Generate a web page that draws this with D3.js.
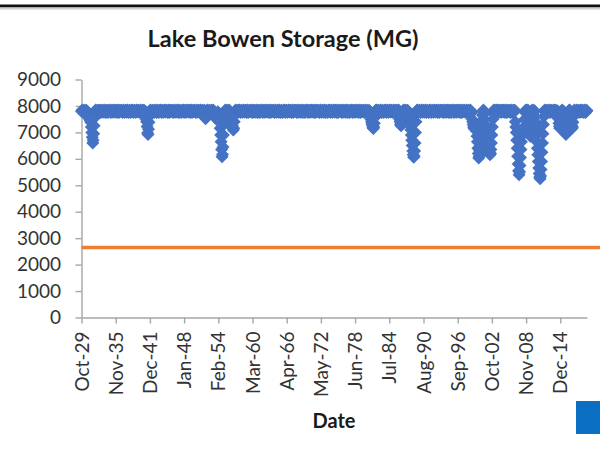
<!DOCTYPE html>
<html>
<head>
<meta charset="utf-8">
<script src="https://cdn.jsdelivr.net/npm/d3@7"></script>
<style>
  html, body { margin: 0; padding: 0; background: #fff; }
  svg { display: block; }
</style>
</head>
<body>
<svg id="chart" width="600" height="455"></svg>
<script>
// Monthly storage readings (MG), one row per water year, October to September,
// starting October 1929.
const firstMonth = "1929-10";
const storage = [
  7800,7840,7820,7770,7750,7810,7850,7800,7760,7780,7840,7820,
  7790,7760,7700,7620,7560,7520,7480,7440,7380,7200,7000,6820,
  6600,6700,6950,7250,7550,7780,7850,7800,7760,7790,7840,7820,
  7790,7840,7830,7770,7750,7810,7850,7800,7760,7780,7840,7820,
  7760,7800,7850,7810,7750,7770,7830,7840,7780,7750,7800,7840,
  7820,7850,7790,7750,7790,7840,7830,7770,7760,7820,7850,7800,
  7770,7830,7840,7780,7750,7800,7850,7810,7750,7790,7840,7810,
  7790,7840,7830,7770,7750,7810,7850,7800,7760,7780,7840,7820,
  7760,7800,7850,7810,7750,7770,7830,7840,7780,7750,7800,7840,
  7820,7850,7790,7750,7790,7840,7830,7770,7760,7820,7850,7800,
  7770,7830,7840,7780,7750,7800,7850,7810,7750,7790,7840,7810,
  7780,7840,7820,7770,7800,7620,7500,7400,7220,6980,6920,7120,
  7380,7620,7800,7850,7800,7750,7780,7840,7820,7760,7790,7840,
  7760,7800,7850,7810,7750,7770,7830,7840,7780,7750,7800,7840,
  7820,7850,7790,7750,7790,7840,7830,7770,7760,7820,7850,7800,
  7770,7830,7840,7780,7750,7800,7850,7810,7750,7790,7840,7810,
  7790,7840,7830,7770,7750,7810,7850,7800,7760,7780,7840,7820,
  7760,7800,7850,7810,7750,7770,7830,7840,7780,7750,7800,7840,
  7820,7850,7790,7750,7790,7840,7830,7770,7760,7820,7850,7800,
  7770,7830,7840,7780,7750,7800,7850,7810,7750,7790,7840,7810,
  7790,7840,7830,7770,7750,7810,7850,7800,7760,7780,7840,7820,
  7760,7800,7850,7810,7750,7770,7830,7840,7780,7750,7800,7840,
  7560,7520,7600,7720,7820,7850,7800,7760,7790,7840,7820,7770,
  7790,7840,7830,7770,7800,7850,7810,7760,7700,7620,7560,7520,
  7560,7620,7700,7780,7720,7600,7480,7380,7160,6900,6650,6350,
  6080,6160,6450,6900,7300,7620,7800,7850,7790,7760,7820,7840,
  7800,7760,7820,7850,7800,7760,7600,7480,7400,7330,7250,7160,
  7090,7160,7400,7650,7820,7850,7790,7750,7800,7840,7830,7770,
  7820,7850,7790,7750,7790,7840,7830,7770,7760,7820,7850,7800,
  7770,7830,7840,7780,7750,7800,7850,7810,7750,7790,7840,7810,
  7790,7840,7830,7770,7750,7810,7850,7800,7760,7780,7840,7820,
  7760,7800,7850,7810,7750,7770,7830,7840,7780,7750,7800,7840,
  7820,7850,7790,7750,7790,7840,7830,7770,7760,7820,7850,7800,
  7770,7830,7840,7780,7750,7800,7850,7810,7750,7790,7840,7810,
  7790,7840,7830,7770,7750,7810,7850,7800,7760,7780,7840,7820,
  7760,7800,7850,7810,7750,7770,7830,7840,7780,7750,7800,7840,
  7820,7850,7790,7750,7790,7840,7830,7770,7760,7820,7850,7800,
  7770,7830,7840,7780,7750,7800,7850,7810,7750,7790,7840,7810,
  7790,7840,7830,7770,7750,7810,7850,7800,7760,7780,7840,7820,
  7760,7800,7850,7810,7750,7770,7830,7840,7780,7750,7800,7840,
  7820,7850,7790,7750,7790,7840,7830,7770,7760,7820,7850,7800,
  7770,7830,7840,7780,7750,7800,7850,7810,7750,7790,7840,7810,
  7790,7840,7830,7770,7750,7810,7850,7800,7760,7780,7840,7820,
  7760,7800,7850,7810,7750,7770,7830,7840,7780,7750,7800,7840,
  7820,7850,7790,7750,7790,7840,7830,7770,7760,7820,7850,7800,
  7770,7830,7840,7780,7750,7800,7850,7810,7750,7790,7840,7810,
  7790,7840,7830,7770,7750,7810,7850,7800,7760,7780,7840,7820,
  7760,7800,7850,7810,7750,7770,7830,7840,7780,7750,7800,7840,
  7820,7850,7790,7750,7790,7840,7830,7770,7760,7820,7850,7800,
  7770,7830,7840,7780,7750,7800,7850,7810,7750,7790,7840,7810,
  7790,7840,7830,7770,7750,7810,7850,7800,7760,7780,7840,7820,
  7760,7800,7840,7790,7760,7600,7500,7400,7320,7250,7180,7150,
  7200,7350,7560,7760,7840,7850,7790,7750,7800,7840,7830,7770,
  7760,7800,7850,7810,7750,7770,7830,7840,7780,7750,7800,7840,
  7820,7850,7790,7750,7790,7840,7830,7770,7760,7820,7850,7800,
  7770,7830,7840,7780,7750,7800,7850,7810,7750,7790,7840,7810,
  7790,7840,7820,7760,7800,7850,7800,7500,7400,7300,7250,7300,
  7420,7580,7760,7840,7850,7800,7760,7790,7840,7820,7770,7800,
  7840,7800,7760,7600,7450,7350,7250,7100,6900,6700,6500,6300,
  6150,6060,6100,6300,6600,7000,7400,7700,7840,7850,7790,7760,
  7790,7840,7830,7770,7750,7810,7850,7800,7760,7780,7840,7820,
  7760,7800,7850,7810,7750,7770,7830,7840,7780,7750,7800,7840,
  7820,7850,7790,7750,7790,7840,7830,7770,7760,7820,7850,7800,
  7770,7830,7840,7780,7750,7800,7850,7810,7750,7790,7840,7810,
  7790,7840,7830,7770,7750,7810,7850,7800,7760,7780,7840,7820,
  7760,7800,7850,7810,7750,7770,7830,7840,7780,7750,7800,7840,
  7820,7850,7790,7750,7790,7840,7830,7770,7760,7820,7850,7800,
  7770,7830,7840,7780,7750,7800,7850,7810,7750,7790,7840,7810,
  7790,7840,7830,7770,7750,7810,7850,7800,7760,7780,7840,7820,
  7760,7800,7850,7810,7780,7740,7500,7400,7300,7200,7150,7250,
  7350,7300,7200,7050,6850,6650,6400,6200,6030,6100,6300,6600,
  6900,7100,7250,7450,7650,7800,7850,7700,7500,7300,7150,7000,
  6950,6850,6750,6650,6550,6450,6350,6250,6150,6200,6350,6600,
  6900,7200,7500,7720,7850,7840,7780,7750,7800,7850,7820,7770,
  7820,7850,7790,7750,7790,7840,7830,7770,7760,7820,7850,7800,
  7770,7830,7840,7780,7750,7800,7850,7810,7750,7790,7840,7810,
  7790,7840,7830,7770,7750,7810,7850,7800,7760,7780,7840,7820,
  7780,7840,7400,7200,7000,6700,6400,6100,5800,5550,5400,5500,
  5750,6050,6350,6650,6900,7050,7150,7000,6950,7200,7500,7750,
  7840,7850,7800,7760,7820,7850,7790,7400,7150,7000,6850,7100,
  7450,7750,7850,7810,7760,7800,7840,7790,7600,7400,7150,6900,
  6650,6400,6150,5900,5650,5450,5300,5250,5350,5600,5900,6250,
  6600,6950,7300,7600,7820,7850,7790,7750,7800,7840,7830,7770,
  7760,7800,7850,7810,7750,7770,7830,7840,7780,7750,7800,7840,
  7820,7850,7790,7750,7790,7840,7830,7770,7760,7800,7520,7350,
  7220,7160,7250,7420,7650,7820,7850,7800,7760,7800,7500,7300,
  7100,6980,6920,6960,7060,7200,7380,7550,7720,7840,7850,7800,
  7780,7420,7260,7150,7200,7380,7600,7800,7850,7810,7760,7790,
  7820,7850,7790,7750,7790,7840,7830,7770,7760,7820,7850,7800,
  7770,7830,7840,7780,7750,7800,7850,7810,7750,7790,7840,7820
];

// Minimum pool level (MG)
const minimumPool = 2650;

const yTickValues = [0, 1000, 2000, 3000, 4000, 5000, 6000, 7000, 8000, 9000];
const xTickMonths = ["1929-10", "1935-11", "1941-12", "1948-01", "1954-02",
  "1960-03", "1966-04", "1972-05", "1978-06", "1984-07", "1990-08",
  "1996-09", "2002-10", "2008-11", "2014-12"];

const parseMonth = d3.timeParse("%Y-%m");
const start = parseMonth(firstMonth);
const readings = storage.map((v, i) => ({ date: d3.timeMonth.offset(start, i), value: v }));
const xTicks = xTickMonths.map(parseMonth);

const W = 600, H = 455;
const svg = d3.select("#chart");
const font = "Lato, 'Open Sans', sans-serif";

svg.append("rect").attr("width", W).attr("height", H).attr("fill", "#fff");

// frame line across the top
svg.append("rect").attr("x", 0).attr("y", 4.5).attr("width", W).attr("height", 3).attr("fill", "#111");
svg.append("rect").attr("x", 0).attr("y", 7.5).attr("width", W).attr("height", 2).attr("fill", "#cfcfcf");

const x = d3.scaleTime()
  .domain(d3.extent(readings, d => d.date))
  .range([81.5, 587]);
const y = d3.scaleLinear().domain([0, 9000]).range([317.5, 79.5]);

// title
svg.append("text")
  .attr("x", 283).attr("y", 47)
  .attr("text-anchor", "middle")
  .attr("font-family", font).attr("font-weight", "bold").attr("font-size", 23.5)
  .attr("fill", "#1a1a1a")
  .text("Lake Bowen Storage (MG)");

// y axis
const yAxis = svg.append("g")
  .attr("transform", `translate(${x.range()[0]},0)`)
  .call(d3.axisLeft(y).tickValues(yTickValues).tickSize(6).tickSizeOuter(0).tickPadding(14.5).tickFormat(d3.format("d")));

// x axis
const xAxis = svg.append("g")
  .attr("transform", `translate(0,${y(0)})`)
  .call(d3.axisBottom(x).tickValues(xTicks).tickSize(6).tickSizeOuter(0).tickFormat(d3.timeFormat("%b-%y")));

xAxis.selectAll(".tick text")
  .attr("transform", "rotate(-90)")
  .attr("text-anchor", "end")
  .attr("x", -14).attr("y", 0).attr("dy", "0.35em");

[yAxis, xAxis].forEach(g => {
  g.selectAll("path.domain, .tick line").attr("stroke", "#a6a6a6").attr("stroke-width", 1.4);
  g.selectAll(".tick text")
    .attr("font-family", font).attr("font-size", 19).attr("fill", "#333");
});

// minimum pool line
svg.append("line")
  .attr("x1", x.range()[0]).attr("x2", W)
  .attr("y1", y(minimumPool)).attr("y2", y(minimumPool))
  .attr("stroke", "#ED7D31").attr("stroke-width", 3.5);

// storage markers
svg.append("g").selectAll("path")
  .data(readings)
  .join("path")
  .attr("transform", d => `translate(${x(d.date)},${y(d.value)})`)
  .attr("d", "M0,-6.5L6.5,0L0,6.5L-6.5,0Z")
  .attr("fill", "#4472C4");

// x axis title
svg.append("text")
  .attr("x", 334).attr("y", 428)
  .attr("text-anchor", "middle")
  .attr("font-family", font).attr("font-weight", "bold").attr("font-size", 20)
  .attr("fill", "#1a1a1a")
  .text("Date");

// corner block
svg.append("rect").attr("x", 576).attr("y", 401).attr("width", 24).attr("height", 33).attr("fill", "#0A6EC2");
</script>
</body>
</html>
